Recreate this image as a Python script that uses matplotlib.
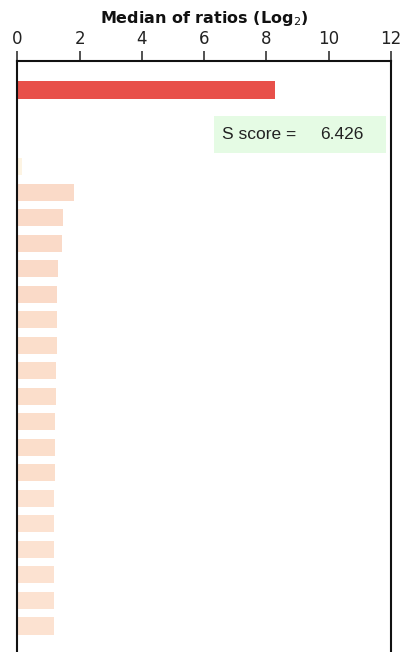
import matplotlib
matplotlib.use("Agg")
import matplotlib.pyplot as plt
from matplotlib.patches import Rectangle

# Data
row_index = [0, 3, 4, 5, 6, 7, 8, 9, 10, 11, 12, 13, 14, 15, 16, 17, 18, 19, 20, 21]
values = [8.28, 0.14, 1.82, 1.47, 1.43, 1.31, 1.28, 1.28, 1.28, 1.25, 1.25,
          1.21, 1.21, 1.21, 1.18, 1.18, 1.18, 1.18, 1.18, 1.18]
bar_colors = ["#e8504a", "#fdf4e3"] + ["#fadac8"] * 5 + ["#fbdecb"] * 7 + ["#fce2d1"] * 6
x_ticks = [0, 2, 4, 6, 8, 10, 12]
score_label = "S score ="
score_value = "6.426"
title = "Median of ratios (Log$_2$)"

fig = plt.figure(figsize=(4.12, 6.52), dpi=100)
ax = fig.add_axes([17.3 / 412, 0.0, (391 - 17.3) / 412, 1 - 61 / 652])

ax.barh(row_index, values, height=0.67, color=bar_colors, edgecolor="none")

ax.set_xlim(0, 12)
ax.set_ylim(22.02, -1.136)
ax.xaxis.set_ticks_position("top")
ax.xaxis.set_label_position("top")
ax.set_xticks(x_ticks)
ax.tick_params(axis="x", direction="out", length=7, width=1.1, labelsize=12,
               pad=2.5, colors="#222222", labelcolor="#222222")
ax.set_yticks([])
for s in ["top", "left", "right"]:
    ax.spines[s].set_linewidth(1.5)
    ax.spines[s].set_color("#111111")
ax.spines["bottom"].set_visible(False)

ax.set_xlabel(title, fontsize=11.5, fontweight="bold", labelpad=5, color="#111111")

# score box
ax.add_patch(Rectangle((6.31, 1.02), 11.83 - 6.31, 2.46 - 1.02,
                       facecolor="#e5fbe4", edgecolor="none", zorder=3))
ax.text(6.57, 1.76, score_label, family="Liberation Sans", fontsize=12.5,
        va="center", ha="left", zorder=4, color="#222222")
ax.text(9.74, 1.76, score_value, family="Liberation Sans", fontsize=12.5,
        va="center", ha="left", zorder=4, color="#222222")

fig.savefig("out.png", dpi=100)
